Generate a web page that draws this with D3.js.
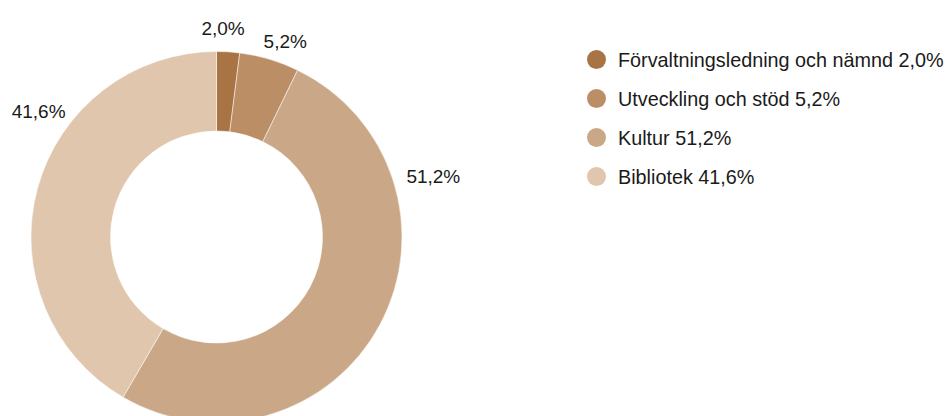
<!DOCTYPE html>
<html>
<head>
<meta charset="utf-8">
<script src="https://cdn.jsdelivr.net/npm/d3@7"></script>
<style>
    html, body {margin: 0; padding: 0; background: #fff;}
    svg {display: block; font-family: "Liberation Sans", Arial, sans-serif;}
    .lbl {font-size: 19px; fill: #1a1a1a;}
    .legend text {font-size: 19.8px; fill: #1a1a1a;}
</style>
</head>
<body>
<div id="chart"></div>
<script>

var categories = ["Förvaltningsledning och nämnd", "Utveckling och stöd", "Kultur", "Bibliotek"];
var values = [2.0, 5.2, 51.2, 41.6];
var colors = ["#a97443", "#bc8e65", "#caa887", "#dfc6ad"];

var fmt = function(v) {return d3.format(".1f")(v).replace(".", ",") + "%"};

var w = 947, h = 416
    , cx = 216.5, cy = 237
    , outerR = 185.5, innerR = 106;

// label placement (angle in degrees, radius) -- tuned to sit like the original
var labelPos = [[1.8, 209], [19.4, 207], [74.5, 225], [305.3, 218]];

var svg = d3.select("#chart")
    .append("svg")
    .attr("width", w)
    .attr("height", h);

var pie = d3.pie()
    .sort(null)
    .value(d => d.v);

var arcs = pie(values.map((v, i) => ({v: v, name: categories[i], i: i})));

var arc = d3.arc()
    .innerRadius(innerR)
    .outerRadius(outerR);

var g = svg.append("g")
    .attr("transform", "translate(" + cx + "," + cy + ")");

g.selectAll("path.slice")
    .data(arcs)
    .enter()
    .append("path")
    .attr("class", "slice")
    .attr("d", arc)
    .attr("fill", d => colors[d.data.i])
    .attr("stroke", "#fff")
    .attr("stroke-width", 0.5);

g.selectAll("text.lbl")
    .data(arcs)
    .enter()
    .append("text")
    .attr("class", "lbl")
    .attr("text-anchor", "middle")
    .attr("dominant-baseline", "central")
    .attr("x", d => {
        var p = labelPos[d.index], a = p[0] * Math.PI / 180;
        return Math.sin(a) * p[1];
    })
    .attr("y", d => {
        var p = labelPos[d.index], a = p[0] * Math.PI / 180;
        return -Math.cos(a) * p[1];
    })
    .text(d => fmt(d.data.v));

// legend
var ly = d3.scaleBand()
    .domain(categories)
    .range([40, 196]);

var leg = svg.append("g")
    .attr("class", "legend")
    .attr("transform", "translate(596.5,0)");

var item = leg.selectAll("g")
    .data(categories)
    .enter()
    .append("g")
    .attr("transform", d => "translate(0," + (ly(d) + ly.bandwidth() / 2) + ")");

item.append("circle")
    .attr("r", 9.5)
    .attr("fill", (d, i) => colors[i]);

item.append("text")
    .attr("x", 21.5)
    .attr("dominant-baseline", "central")
    .text((d, i) => d + " " + fmt(values[i]));

</script>
</body>
</html>
